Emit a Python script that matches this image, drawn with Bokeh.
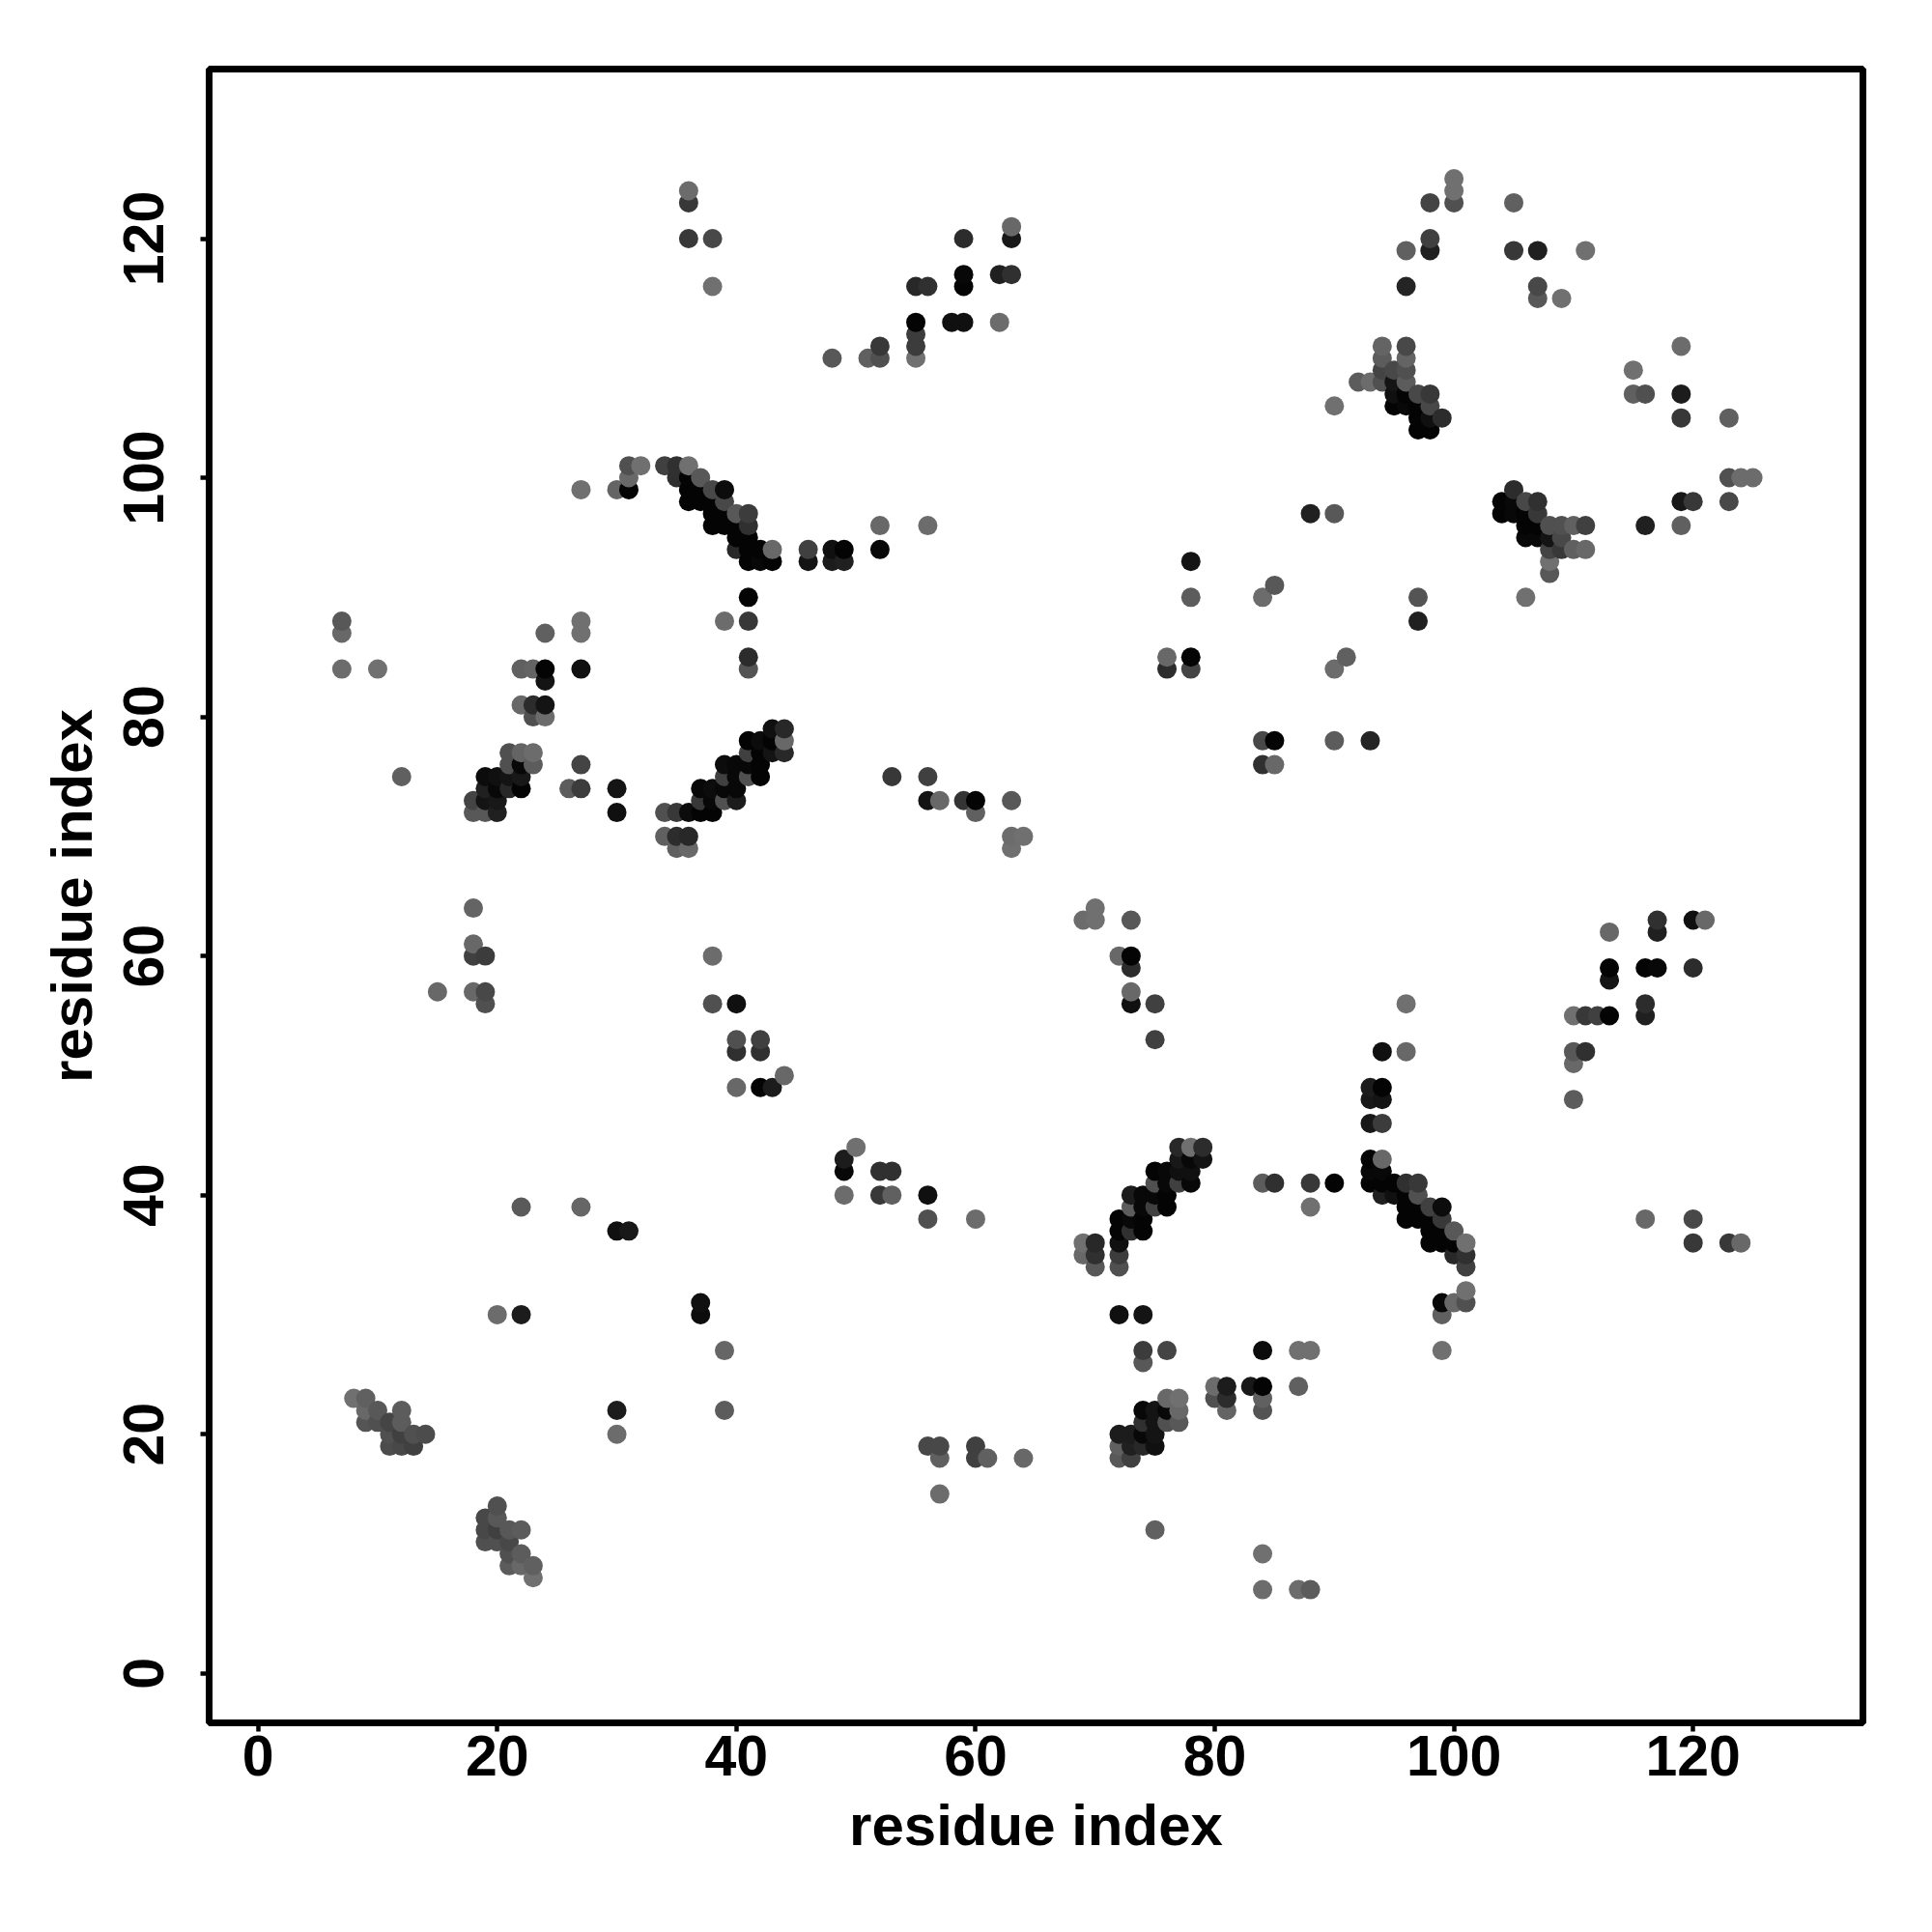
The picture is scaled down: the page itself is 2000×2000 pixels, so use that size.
from bokeh.embed import file_html
from bokeh.resources import INLINE
from bokeh.plotting import figure
from bokeh.models import ColumnDataSource, FixedTicker, Range1d

tick_values = [0, 20, 40, 60, 80, 100, 120]
axis_title = "residue index"

# contacts: (residue x, residue y, grey level)
low_left = [(22,39,0x5a),(27,39,0x66),(30,37,0x10),(31,37,0x18),(20,30,0x6c),(22,30,0x1c),(37,31,0x10),(37,30,0x0c),
 (39,27,0x66),(30,22,0x1c),(30,20,0x6c),(39,22,0x5c)]
cluster_a = [(8,23,0x70),(9,23,0x60),(9,22,0x68),(10,22,0x58),(9,21,0x55),(10,21,0x50),(11,21,0x45),(12,22,0x5c),(12,21,0x5c),
 (11,20,0x50),(12,20,0x40),(13,20,0x50),(14,20,0x4c),(11,19,0x4c),(12,19,0x48),(13,19,0x40)]
cluster_b = [(20,14,0x50),(19,13,0x48),(20,13,0x58),(19,12,0x48),(20,12,0x40),(21,12,0x58),(22,12,0x5c),(19,11,0x50),(20,11,0x50),
 (21,11,0x48),(21,10,0x50),(22,10,0x5c),(21,9,0x5c),(22,9,0x68),(23,9,0x60),(23,8,0x70)]
low_mid = [(50,44,0x70),(49,43,0x1c),(49,42,0x08),(52,42,0x30),(53,42,0x30),(49,40,0x6c),(52,40,0x38),(53,40,0x60),(56,40,0x10),
 (56,38,0x50),(60,38,0x6c),(56,19,0x48),(57,19,0x48),(57,18,0x60),(60,19,0x40),(60,18,0x40),(61,18,0x60),(64,18,0x68),(57,15,0x6c),
 (75,12,0x60),(84,10,0x70),(84,7,0x6c),(87,7,0x6c),(88,7,0x5c)]
cluster_c = [(69,36,0x70),(70,36,0x28),(69,35,0x68),(70,35,0x30),(70,34,0x58),(72,36,0x10),(72,35,0x3c),(72,34,0x50),(72,38,0x04),
 (72,37,0x04),(73,40,0x1c),(73,39,0x5c),(73,37,0x30),(73,38,0x08),(74,40,0x08),(74,39,0x08),(74,38,0x04),(74,37,0x04),(75,42,0x04),
 (75,41,0x50),(75,40,0x08),(75,39,0x40),(76,42,0x08),(76,41,0x08),(76,40,0x04),(76,39,0x04),(77,44,0x28),(77,43,0x18),(77,42,0x10),
 (77,41,0x40),(78,44,0x70),(78,43,0x08),(78,42,0x10),(78,41,0x08),(79,44,0x2c),(79,43,0x14)]
row_41 = [(84,41,0x5c),(85,41,0x30),(88,41,0x38),(88,39,0x70),(90,41,0x04),(72,30,0x10),(74,30,0x14),(74,27,0x3c),(76,27,0x44),
 (74,26,0x58),(84,27,0x0c),(87,27,0x70),(88,27,0x70)]
cluster_d = [(76,23,0x68),(77,23,0x70),(74,22,0x08),(75,22,0x14),(76,22,0x08),(77,22,0x68),(74,21,0x30),(75,21,0x14),(76,21,0x50),
 (77,21,0x58),(72,20,0x1c),(73,20,0x1c),(74,20,0x08),(75,20,0x14),(72,19,0x60),(73,19,0x20),(74,19,0x28),(75,19,0x10),(72,18,0x58),
 (73,18,0x40),(80,24,0x6c),(81,24,0x1c),(80,23,0x50),(81,23,0x2c),(81,22,0x64),(83,24,0x18),(84,24,0x04),(84,23,0x60),(84,22,0x54),(87,24,0x60)]
cluster_e = [(96,56,0x70),(94,52,0x10),(96,52,0x68),(93,49,0x1c),(94,49,0x04),(93,48,0x18),(94,48,0x14),(93,46,0x18),(94,46,0x3c),
 (93,43,0x04),(94,43,0x68),(93,42,0x08),(94,42,0x08),(93,41,0x04),(94,41,0x04),(94,40,0x20),(95,41,0x04),(95,40,0x10),(96,41,0x30),
 (97,41,0x38),(96,40,0x04),(97,40,0x50),(96,39,0x04),(97,39,0x04),(98,39,0x40),(99,39,0x0c),(96,38,0x04),(97,38,0x04),(98,38,0x04),
 (99,38,0x38),(98,37,0x04),(99,37,0x04),(100,37,0x58),(98,36,0x04),(99,36,0x04),(100,36,0x04),(101,36,0x70),(100,35,0x28),(101,35,0x30),
 (101,34,0x40),(101,32,0x70),(99,31,0x08),(100,31,0x68),(101,31,0x50),(99,30,0x60),(99,27,0x70)]
right_mid = [(113,62,0x68),(117,63,0x30),(117,62,0x20),(120,63,0x10),(121,63,0x68),(113,59,0x04),(113,58,0x14),(116,59,0x04),(117,59,0x08),
 (120,59,0x2c),(110,55,0x70),(111,55,0x38),(112,55,0x40),(113,55,0x04),(116,56,0x2c),(116,55,0x20),(110,52,0x58),(111,52,0x30),(110,51,0x68),
 (110,48,0x5c),(116,38,0x68),(120,38,0x48),(120,36,0x38),(123,36,0x38),(124,36,0x68)]
left_top = [(7,88,0x58),(7,87,0x68),(7,84,0x6c),(10,84,0x70),(24,87,0x60),(27,88,0x70),(27,87,0x70),(41,90,0x04),(39,88,0x6c),(41,88,0x38),
 (41,85,0x2c),(41,84,0x54),(22,84,0x60),(23,84,0x64),(24,84,0x04),(24,83,0x14),(27,84,0x10),(22,81,0x68),(23,81,0x2c),(24,81,0x14),
 (23,80,0x50),(24,80,0x6c)]
cluster_f = [(21,77,0x50),(22,77,0x64),(23,77,0x6c),(21,76,0x50),(22,76,0x08),(23,76,0x5c),(27,76,0x44),(12,75,0x60),(19,75,0x0c),(20,75,0x10),
 (21,75,0x14),(22,75,0x18),(19,74,0x20),(20,74,0x08),(21,74,0x28),(22,74,0x04),(26,74,0x5c),(27,74,0x3c),(30,74,0x14),(30,72,0x10),
 (18,73,0x44),(19,73,0x14),(20,73,0x18),(18,72,0x58),(19,72,0x58),(20,72,0x20)]
cluster_g = [(34,72,0x50),(35,72,0x38),(36,72,0x0c),(37,72,0x04),(38,72,0x04),(34,70,0x60),(35,70,0x2c),(36,70,0x28),(35,69,0x60),(36,69,0x68),
 (37,74,0x08),(38,74,0x0c),(39,74,0x08),(40,74,0x08),(37,73,0x38),(38,73,0x08),(39,73,0x50),(40,73,0x1c),(39,76,0x0c),(40,76,0x08),(41,76,0x08),
 (42,76,0x04),(39,75,0x40),(40,75,0x08),(41,75,0x50),(42,75,0x04),(41,78,0x04),(42,78,0x0c),(43,78,0x04),(44,78,0x68),(41,77,0x40),(42,77,0x04),
 (43,77,0x14),(44,77,0x28),(43,79,0x10),(44,79,0x28)]
mid_left = [(18,64,0x64),(18,61,0x68),(18,60,0x40),(19,60,0x3c),(38,60,0x6c),(15,57,0x68),(18,57,0x68),(19,57,0x48),(19,56,0x50),(38,56,0x50),
 (40,56,0x10),(40,53,0x50),(42,53,0x40),(40,52,0x30),(42,52,0x30),(40,49,0x68),(42,49,0x04),(43,49,0x1c),(44,50,0x68)]
centre = [(78,90,0x5c),(84,90,0x6c),(85,91,0x58),(76,85,0x68),(78,85,0x04),(76,84,0x2c),(78,84,0x44),(90,84,0x6c),(91,85,0x60),(84,78,0x48),
 (85,78,0x04),(90,78,0x5c),(93,78,0x24),(84,76,0x30),(85,76,0x68),(53,75,0x38),(56,75,0x40),(56,73,0x14),(57,73,0x68),(59,73,0x34),(60,73,0x04),
 (60,72,0x60),(63,73,0x58),(63,70,0x6c),(64,70,0x70),(63,69,0x70),(70,64,0x70),(69,63,0x6c),(70,63,0x70),(73,63,0x58),(72,60,0x68),(73,60,0x04),
 (73,59,0x2c),(73,57,0x68),(73,56,0x10),(75,56,0x40),(75,53,0x40),(78,93,0x14)]
top_right = [(100,125,0x70),(100,124,0x70),(98,123,0x44),(100,123,0x50),(105,123,0x60),(98,120,0x40),(98,119,0x20),(96,119,0x60),(105,119,0x38),
 (107,119,0x20),(111,119,0x70),(96,116,0x24),(107,116,0x48),(107,115,0x58),(109,115,0x70)]
cluster_h = [(94,111,0x64),(96,111,0x48),(94,110,0x5c),(96,110,0x64),(94,109,0x44),(95,109,0x48),(96,109,0x50),(92,108,0x5c),(93,108,0x6c),(94,108,0x50),
 (95,108,0x14),(96,108,0x5c),(95,107,0x10),(96,107,0x04),(97,107,0x48),(98,107,0x38),(95,106,0x04),(96,106,0x08),(97,106,0x04),(98,106,0x48),
 (97,105,0x04),(98,105,0x10),(99,105,0x2c),(97,104,0x04),(98,104,0x04),(90,106,0x70)]
far_right = [(115,109,0x70),(119,111,0x6c),(115,107,0x60),(116,107,0x50),(119,107,0x1c),(119,105,0x38),(123,105,0x60),(123,100,0x50),(124,100,0x6c),
 (125,100,0x6c),(119,98,0x18),(120,98,0x38),(123,98,0x48),(116,96,0x20),(119,96,0x60)]
cluster_i = [(105,99,0x2c),(104,98,0x04),(105,98,0x08),(106,98,0x48),(107,98,0x30),(104,97,0x04),(105,97,0x08),(106,97,0x04),(107,97,0x38),(106,96,0x04),
 (107,96,0x04),(108,96,0x50),(109,96,0x50),(110,96,0x60),(111,96,0x40),(106,95,0x08),(107,95,0x08),(108,95,0x14),(109,95,0x48),(108,94,0x44),(109,94,0x38),
 (110,94,0x60),(111,94,0x68),(108,93,0x70),(108,92,0x58),(106,90,0x70),(88,97,0x20),(90,97,0x58),(97,90,0x54),(97,88,0x20)]
top_mid = [(36,124,0x6c),(36,123,0x38),(36,120,0x38),(38,120,0x48),(38,116,0x70),(59,120,0x2c),(63,121,0x68),(63,120,0x18),(62,117,0x20),(63,117,0x30),
 (59,117,0x08),(59,116,0x04),(55,116,0x28),(56,116,0x30),(55,113,0x04),(55,112,0x3c),(55,111,0x3c),(55,110,0x70),(58,113,0x10),(59,113,0x10),(62,113,0x6c),
 (52,111,0x38),(52,110,0x50),(51,110,0x60),(48,110,0x58)]
cluster_j = [(31,101,0x50),(32,101,0x70),(31,100,0x68),(31,99,0x04),(30,99,0x64),(27,99,0x70),(34,101,0x40),(35,101,0x30),(36,101,0x70),(35,100,0x30),
 (36,100,0x04),(37,100,0x58),(36,99,0x04),(37,99,0x04),(38,99,0x48),(39,99,0x0c),(36,98,0x04),(37,98,0x04),(38,98,0x04),(39,98,0x48),(38,97,0x04),(39,97,0x04),
 (40,97,0x58),(41,97,0x3c),(38,96,0x04),(39,96,0x04),(40,96,0x04),(41,96,0x30),(40,95,0x04),(41,95,0x04),(40,94,0x28),(41,94,0x04),(42,94,0x04),(43,94,0x68),
 (41,93,0x04),(42,93,0x08),(43,93,0x04),(46,94,0x40),(46,93,0x14),(48,94,0x10),(49,94,0x04),(48,93,0x1c),(49,93,0x20),(52,94,0x08),(52,96,0x68),(56,96,0x6c)]

groups = [low_left, cluster_a, cluster_b, low_mid, cluster_c, row_41, cluster_d, cluster_e, right_mid, left_top,
          cluster_f, cluster_g, mid_left, centre, top_right, cluster_h, far_right, cluster_i, top_mid, cluster_j]
# the original draws in residue order: later x, then later y, lies on top
contacts = sorted({(x, y): g for grp in groups for x, y, g in grp}.items())
xs = [k[0] for k, g in contacts]
ys = [k[1] for k, g in contacts]
cols = ["#%02x%02x%02x" % (g, g, g) for k, g in contacts]

LEFT, TOP, SIDE = 216, 71, 1712
p = figure(width=LEFT + SIDE + 50, height=TOP + SIDE + 190, output_backend="svg", toolbar_location=None,
           x_range=Range1d(-4.095, 134.2), y_range=Range1d(-4.14, 134.18),
           min_border_left=LEFT, min_border_top=TOP, min_border_right=50, min_border_bottom=190)
p.background_fill_color = "white"
p.border_fill_color = "white"
p.grid.visible = False
p.outline_line_color = "black"
p.outline_line_width = 7

src = ColumnDataSource(dict(x=xs, y=ys, c=cols))
p.scatter("x", "y", source=src, size=20, fill_color="c", line_color=None)

for ax in (p.xaxis[0], p.yaxis[0]):
    ax.ticker = FixedTicker(ticks=tick_values)
    ax.axis_label = axis_title
    ax.axis_line_color = None
    ax.minor_tick_line_color = None
    ax.major_tick_in = 0
    ax.major_tick_out = 9
    ax.major_tick_line_width = 4.5
    ax.major_tick_line_color = "black"
    ax.major_label_text_font = "Liberation Sans"
    ax.major_label_text_font_style = "bold"
    ax.major_label_text_font_size = "59px"
    ax.major_label_text_color = "black"
    ax.axis_label_text_font = "Liberation Sans"
    ax.axis_label_text_font_style = "bold"
    ax.axis_label_text_font_size = "60px"
    ax.axis_label_text_color = "black"
p.yaxis[0].major_label_orientation = "vertical"
p.xaxis[0].major_label_standoff = 4
p.yaxis[0].major_label_standoff = 38
p.xaxis[0].axis_label_standoff = 15
p.yaxis[0].axis_label_standoff = 18

open("out.html", "w").write(file_html(p, INLINE))
